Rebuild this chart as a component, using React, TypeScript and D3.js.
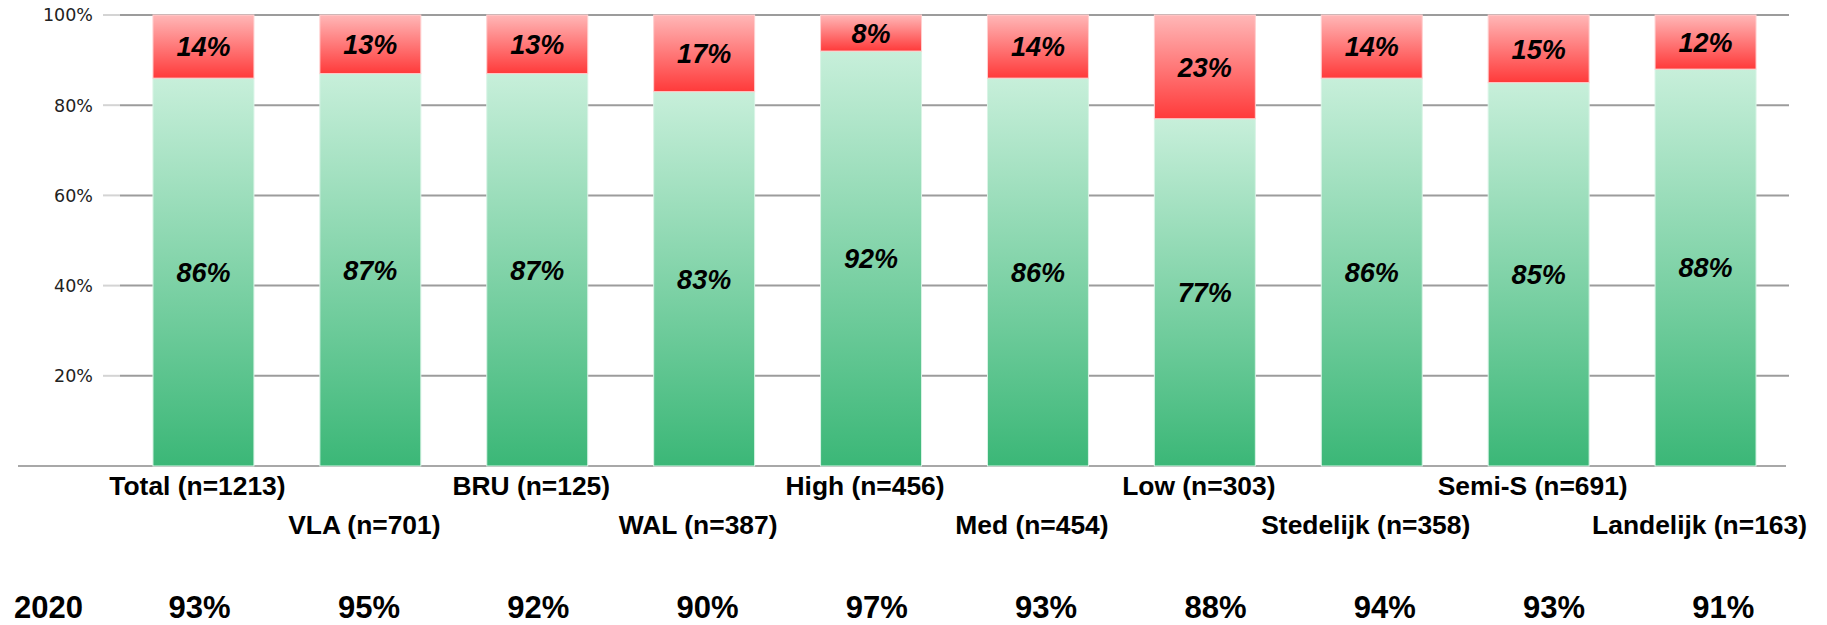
import React from "react";
import * as d3 from "d3";

// Stacked shares per group (percent)
const categories = [
  "Total (n=1213)",
  "VLA (n=701)",
  "BRU (n=125)",
  "WAL (n=387)",
  "High (n=456)",
  "Med (n=454)",
  "Low (n=303)",
  "Stedelijk (n=358)",
  "Semi-S (n=691)",
  "Landelijk (n=163)",
];
const yesValues = [86, 87, 87, 83, 92, 86, 77, 86, 85, 88];
const noValues = [14, 13, 13, 17, 8, 14, 23, 14, 15, 12];

// Comparison row for the previous year
const prevYearLabel = "2020";
const prevYearValues = [93, 95, 92, 90, 97, 93, 88, 94, 93, 91];

const yTicks = [20, 40, 60, 80, 100];

const W = 1827;
const H = 625;

export default function App() {
  const x = d3
    .scaleBand<string>()
    .domain(categories)
    .range([120, 1789])
    .paddingInner(0.395)
    .paddingOuter(0.1975);

  const xPrev = d3.scaleBand<string>().domain(categories).range([115, 1808]);

  const y = d3.scaleLinear().domain([0, 100]).range([466, 15]);

  const bw = x.bandwidth();

  return (
    <svg
      width={W}
      height={H}
      style={{ position: "absolute", left: 0, top: 0, background: "#fff" }}
      fontFamily="'Liberation Sans', Arial, sans-serif"
    >
      <defs>
        <linearGradient id="gGreen" x1="0" y1="0" x2="0" y2="1">
          <stop offset="0%" stopColor="#c7efda" />
          <stop offset="100%" stopColor="#3bb777" />
        </linearGradient>
        <linearGradient id="gRed" x1="0" y1="0" x2="0" y2="1">
          <stop offset="0%" stopColor="#ffb7b7" />
          <stop offset="100%" stopColor="#ff3a3a" />
        </linearGradient>
      </defs>

      {/* gridlines with short lighter ticks on the left */}
      {yTicks.map((t) => (
        <g key={t}>
          <line x1={103} x2={120} y1={y(t)} y2={y(t)} stroke="#d4d4d4" strokeWidth={2} />
          <line x1={120} x2={1789} y1={y(t)} y2={y(t)} stroke="#9c9c9c" strokeWidth={2} />
          <text
            x={93}
            y={y(t)}
            dy="0.36em"
            textAnchor="end"
            fontFamily="'DejaVu Sans', Verdana, sans-serif"
            fontSize={17.5}
            fill="#222"
          >
            {t}%
          </text>
        </g>
      ))}

      {/* baseline */}
      <line x1={18} x2={1786} y1={y(0)} y2={y(0)} stroke="#a8a8a8" strokeWidth={2} />

      {/* bars */}
      {categories.map((c, i) => {
        const x0 = x(c)!;
        const yesTop = y(yesValues[i]);
        const noTop = y(yesValues[i] + noValues[i]);
        return (
          <g key={c}>
            <rect
              x={x0}
              y={yesTop}
              width={bw}
              height={y(0) - yesTop}
              fill="url(#gGreen)"
              stroke="#d9f4e6"
              strokeWidth={1}
            />
            <rect
              x={x0}
              y={noTop}
              width={bw}
              height={yesTop - noTop}
              fill="url(#gRed)"
              stroke="#ffd0d0"
              strokeWidth={1}
            />
            <text
              x={x0 + bw / 2}
              y={(yesTop + y(0)) / 2}
              dy="0.36em"
              textAnchor="middle"
              fontSize={27}
              fontWeight="bold"
              fontStyle="italic"
              fill="#000"
            >
              {yesValues[i]}%
            </text>
            <text
              x={x0 + bw / 2}
              y={(noTop + yesTop) / 2}
              dy="0.36em"
              textAnchor="middle"
              fontSize={27}
              fontWeight="bold"
              fontStyle="italic"
              fill="#000"
            >
              {noValues[i]}%
            </text>
            <text
              x={x0 + bw / 2 - 6}
              y={i % 2 === 0 ? 495 : 534}
              textAnchor="middle"
              fontSize={26.4}
              fontWeight="bold"
              fill="#000"
            >
              {c}
            </text>
          </g>
        );
      })}

      {/* previous-year row */}
      <text x={14} y={618} fontSize={31} fontWeight="bold" fill="#000">
        {prevYearLabel}
      </text>
      {categories.map((c, i) => (
        <text
          key={c}
          x={xPrev(c)! + xPrev.bandwidth() / 2}
          y={618}
          textAnchor="middle"
          fontSize={31}
          fontWeight="bold"
          fill="#000"
        >
          {prevYearValues[i]}%
        </text>
      ))}
    </svg>
  );
}
